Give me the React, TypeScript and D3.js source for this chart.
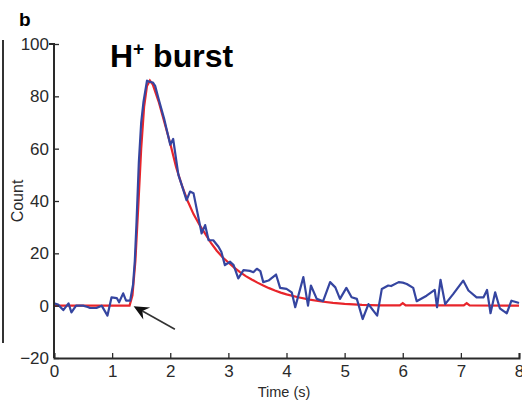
import React, { useEffect, useRef } from 'react';
import * as d3 from 'd3';

// measured trace (blue)
const blueTime = [0, 0.07, 0.16, 0.25, 0.3, 0.38, 0.5, 0.58, 0.62, 0.73, 0.82, 0.92, 0.99, 1.08, 1.12, 1.19, 1.24, 1.31,
  1.36, 1.39, 1.42, 1.46, 1.5, 1.54, 1.6, 1.65, 1.7, 1.74, 1.8, 1.9, 2.0, 2.05, 2.14, 2.2, 2.28, 2.34, 2.4, 2.54, 2.6,
  2.66, 2.74, 2.83, 2.88, 2.94, 3.03, 3.09, 3.17, 3.26, 3.37, 3.43, 3.49, 3.55, 3.6, 3.69, 3.82, 3.89, 4.0, 4.09, 4.15,
  4.29, 4.37, 4.42, 4.52, 4.63, 4.75, 4.84, 4.92, 5.03, 5.12, 5.21, 5.31, 5.41, 5.48, 5.56, 5.64, 5.75, 5.8, 5.93, 6.0,
  6.07, 6.18, 6.24, 6.41, 6.55, 6.59, 6.65, 6.73, 6.87, 7.04, 7.13, 7.27, 7.39, 7.45, 7.51, 7.59, 7.67, 7.73, 7.79, 7.87,
  7.96, 8.0];
const blueCount = [0.9, 0.4, -1.7, 0.9, -2.6, 0, 0, -0.5, -0.9, -0.9, 0, -3.8, 3.2, 2.9, 1.3, 4.7, 1.9, 1.9,
  8, 17, 32, 55, 70, 78, 86, 85.5, 85.3, 84, 79, 71, 61.5, 63.7, 50, 46, 40.3, 43.6, 43, 27.6, 30.8,
  25, 25, 22.5, 20.5, 15.5, 16.8, 15.5, 10.4, 13.6, 13.3, 12.8, 14.1, 13.2, 9, 9.6, 11.9, 6.8, 6.4, 5.1, -0.6,
  10.9, 0, 7.7, 2.6, 1.7, 9, 7, 2.6, 6.8, 3.2, 2.6, -5.1, 0.6, -1.5, -3.8, 6.4, 7.7, 7.5, 9, 8.8,
  8.3, 6.8, 1.7, 3.8, 6, -0.6, 9.9, 0.6, 4.5, 9.6, 5.8, 3.2, 3.2, 6, -2.9, 5.1, -1, -2, -2.9, 1.9,
  1.3, 1.0];

// fitted curve (red)
const redTime = [0, 1.3, 1.35, 1.4, 1.45, 1.5, 1.55, 1.6, 1.65, 1.7, 1.8, 1.9, 2.0, 2.1, 2.2, 2.3, 2.4, 2.5, 2.6, 2.7,
  2.8, 2.9, 3.0, 3.1, 3.2, 3.3, 3.4, 3.5, 3.6, 3.7, 3.8, 3.9, 4.0, 4.2, 4.4, 4.6, 4.8, 5.0, 5.3, 5.6, 5.95, 6.0, 6.05,
  7.05, 7.1, 7.15, 8.0];
const redCount = [0, 0, 4, 17, 38, 60, 76, 84, 86, 84.5, 78, 70, 62, 53, 46, 40, 35, 31, 27.5, 24,
  21, 18.5, 16.5, 14.5, 12.8, 11.3, 10, 8.8, 7.7, 6.7, 5.8, 5, 4.3, 3.2, 2.3, 1.6, 1.1, 0.7, 0.3, 0.1, 0.1, 1, 0.1,
  0.1, 1, 0.1, 0];

const xTicks = [0, 1, 2, 3, 4, 5, 6, 7, 8];
const yTicks = [-20, 0, 20, 40, 60, 80, 100];

// arrow annotation in data units: tail -> tip
const arrowFrom = [2.08, -9];
const arrowTo = [1.37, -0.2];

const App = () => {
  const ref = useRef<SVGSVGElement>(null);

  useEffect(() => {
    const svg = d3.select(ref.current);
    svg.selectAll('*').remove();

    const x = d3.scaleLinear().domain([0, 8]).range([54, 519]);
    const y = d3.scaleLinear().domain([-20, 100]).range([358, 44]);
    const font = 'Liberation Sans, Arial, Helvetica, sans-serif';

    // frame edge of the neighbouring panel
    svg.append('line')
      .attr('x1', 3).attr('x2', 3)
      .attr('y1', 40).attr('y2', 343)
      .attr('stroke', '#333').attr('stroke-width', 2);

    svg.append('text')
      .attr('x', 19).attr('y', 26)
      .attr('font-family', font).attr('font-weight', 'bold').attr('font-size', 19)
      .text('b');

    const line = d3.line<[number, number]>()
      .x(d => x(d[0]))
      .y(d => y(d[1]));

    const red = redTime.map((t, i) => [t, redCount[i]] as [number, number]);
    const blue = blueTime.map((t, i) => [t, blueCount[i]] as [number, number]);

    svg.append('path')
      .attr('d', line(red))
      .attr('fill', 'none')
      .attr('stroke', '#e8252b')
      .attr('stroke-width', 2.2);

    svg.append('path')
      .attr('d', line(blue))
      .attr('fill', 'none')
      .attr('stroke', '#3545a0')
      .attr('stroke-width', 2.2)
      .attr('stroke-linejoin', 'round');

    // axes
    const yAxis = d3.axisLeft(y).tickValues(yTicks).tickSize(-5).tickPadding(5)
      .tickFormat(d => (+d < 0 ? '\u2212' + Math.abs(+d) : String(d)));
    const gy = svg.append('g').attr('transform', `translate(${x(0)},0)`).call(yAxis);

    const xAxis = d3.axisBottom(x).tickValues(xTicks).tickSize(-5).tickPadding(7);
    const gx = svg.append('g').attr('transform', `translate(0,${y(-20)})`).call(xAxis);

    [gx, gy].forEach(g => {
      g.select('.domain').attr('stroke', '#2a2a2a').attr('stroke-width', 2);
      g.selectAll('.tick line').attr('stroke', '#2a2a2a').attr('stroke-width', 1.3);
      g.selectAll('.tick text')
        .attr('font-family', font)
        .attr('font-size', 17)
        .attr('fill', '#2a2a2a');
    });
    gy.select('.domain').attr('d', `M-5,${y(100)}H0V${y(-20)}`);

    svg.append('text')
      .attr('transform', `translate(23,${y(40)}) rotate(-90)`)
      .attr('text-anchor', 'middle')
      .attr('font-family', font).attr('font-size', 16).attr('fill', '#2a2a2a')
      .text('Count');

    svg.append('text')
      .attr('x', 284).attr('y', 397)
      .attr('text-anchor', 'middle')
      .attr('font-family', font).attr('font-size', 14.5).attr('fill', '#2a2a2a')
      .text('Time (s)');

    // title
    const title = svg.append('text')
      .attr('x', 110).attr('y', 67)
      .attr('font-family', font).attr('font-weight', 'bold').attr('font-size', 32)
      .attr('fill', '#000');
    title.append('tspan').text('H');
    title.append('tspan').attr('font-size', 19).attr('dy', -12).text('+');
    title.append('tspan').attr('dy', 12).text(' burst');

    // arrow
    const x1 = x(arrowFrom[0]), y1 = y(arrowFrom[1]);
    const x2 = x(arrowTo[0]), y2 = y(arrowTo[1]);
    const ang = Math.atan2(y2 - y1, x2 - x1);
    const len = 15, half = 7, notch = 10;
    const pt = (d: number, s: number) => [
      x2 - d * Math.cos(ang) - s * Math.sin(ang),
      y2 - d * Math.sin(ang) + s * Math.cos(ang),
    ];
    svg.append('line')
      .attr('x1', x1).attr('y1', y1)
      .attr('x2', pt(notch, 0)[0]).attr('y2', pt(notch, 0)[1])
      .attr('stroke', '#333').attr('stroke-width', 1.6);
    const head = [[x2, y2], pt(len, half), pt(notch, 0), pt(len, -half)];
    svg.append('path')
      .attr('d', 'M' + head.map(p => p.join(',')).join('L') + 'Z')
      .attr('fill', '#111');
  }, []);

  return (
    <svg ref={ref} width={522} height={401}
      style={{ position: 'absolute', left: 0, top: 0, background: '#fff' }} />
  );
};

export default App;
